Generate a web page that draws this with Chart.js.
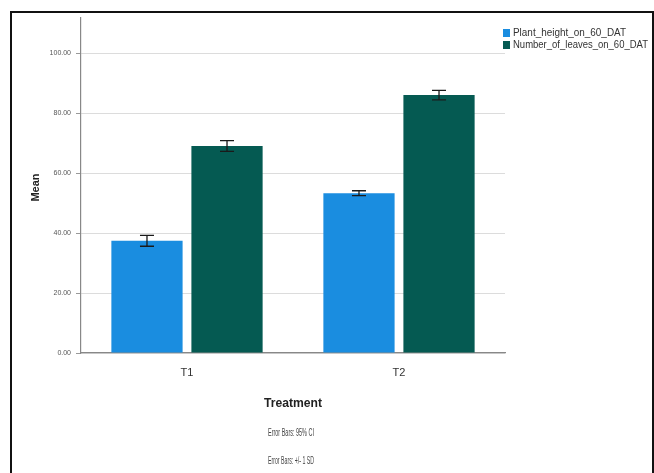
<!DOCTYPE html>
<html>
<head>
<meta charset="utf-8">
<script src="https://cdn.jsdelivr.net/npm/chart.js@4"></script>
<style>
  html, body { margin: 0; padding: 0; background: #fff; }
  #wrap { position: relative; width: 654px; height: 473px; overflow: hidden; }
  #frame { position: absolute; left: 10px; top: 11px; width: 640px; height: 480px;
           border: 2px solid #111; pointer-events: none; }
</style>
</head>
<body>
<div id="wrap">
  <canvas id="chart"></canvas>
  <div id="frame"></div>
</div>
<script>
const treatments = ['T1', 'T2'];
const plantHeight = [37.4, 53.3];
const plantHeightErr = [1.8, 0.8];
const leaves = [69.0, 86.0];
const leavesErr = [1.8, 1.6];
const yTicks = [0, 20, 40, 60, 80, 100];
const notes = ['Error Bars: 95% CI', 'Error Bars: +/- 1 SD'];

const FONT = "'Liberation Sans Narrow', 'Arial Narrow', 'Liberation Sans', sans-serif";
const BLUE = '#1a8de0';
const TEAL = '#055a52';

// barras de error + leyenda + textos inferiores
const extras = {
  id: 'extras',
  afterDatasetsDraw(chart) {
    const { ctx } = chart;
    const y = chart.scales.y;
    ctx.save();
    ctx.strokeStyle = '#1a1a1a';
    ctx.lineWidth = 1.3;
    chart.data.datasets.forEach((ds, i) => {
      chart.getDatasetMeta(i).data.forEach((bar, j) => {
        const hi = y.getPixelForValue(ds.data[j] + ds.err[j]);
        const lo = y.getPixelForValue(ds.data[j] - ds.err[j]);
        const cap = 7;
        ctx.beginPath();
        ctx.moveTo(bar.x, hi); ctx.lineTo(bar.x, lo);
        ctx.moveTo(bar.x - cap, hi); ctx.lineTo(bar.x + cap, hi);
        ctx.moveTo(bar.x - cap, lo); ctx.lineTo(bar.x + cap, lo);
        ctx.stroke();
      });
    });
    ctx.restore();
  },
  afterDraw(chart) {
    const { ctx, chartArea: a } = chart;
    const cx = (a.left + a.right) / 2;
    ctx.save();
    // leyenda (texto estrecho como en SPSS)
    ctx.textBaseline = 'middle';
    ctx.font = `10px ${FONT}`;
    chart.data.datasets.forEach((ds, i) => {
      const lx = a.right - 2, ly = 33 + i * 12;
      ctx.fillStyle = ds.backgroundColor;
      ctx.fillRect(lx, ly - 4, 7, 8);
      ctx.fillStyle = '#333';
      ctx.textAlign = 'left';
      ctx.fillText(ds.label, lx + 10, ly, i ? 135 : 113);
    });
    // título eje Y
    ctx.fillStyle = '#222';
    ctx.font = `bold 11px ${FONT}`;
    ctx.translate(36, (a.top + a.bottom) / 2 + 2);
    ctx.rotate(-Math.PI / 2);
    ctx.textAlign = 'center';
    ctx.fillText('Mean', 0, 0);
    ctx.setTransform(1, 0, 0, 1, 0, 0);
    // título eje X y notas
    ctx.font = `bold 12.5px ${FONT}`;
    ctx.fillText('Treatment', cx, a.bottom + 51, 58);
    ctx.fillStyle = '#444';
    ctx.font = `10px ${FONT}`;
    notes.forEach((t, i) => ctx.fillText(t, cx - 2, a.bottom + 80 + i * 28, 46));
    ctx.restore();
  },
};

new Chart(document.getElementById('chart'), {
  type: 'bar',
  data: {
    labels: treatments,
    datasets: [
      { label: 'Plant_height_on_60_DAT', data: plantHeight, err: plantHeightErr,
        backgroundColor: BLUE },
      { label: 'Number_of_leaves_on_60_DAT', data: leaves, err: leavesErr,
        backgroundColor: TEAL },
    ],
  },
  options: {
    responsive: true, maintainAspectRatio: false, animation: false,
    layout: { padding: { top: 18, right: 149, left: 0, bottom: 0 } },
    datasets: { bar: { categoryPercentage: 0.755, barPercentage: 0.89 } },
    plugins: { legend: { display: false }, tooltip: { enabled: false } },
    scales: {
      x: {
        grid: { display: false },
        border: { color: '#888', width: 1.2 },
        ticks: { color: '#333', font: { family: FONT, size: 11 }, padding: 5 },
        afterFit: (s) => { s.height = 120; },
      },
      y: {
        min: 0, max: 111.7,
        afterBuildTicks: (s) => { s.ticks = yTicks.map(v => ({ value: v })); },
        afterFit: (s) => { s.width = 81; },
        grid: { color: '#dcdcdc', tickColor: '#999', tickLength: 5 },
        border: { color: '#888', width: 1.2 },
        ticks: {
          color: '#555', font: { family: FONT, size: 7 }, padding: 5,
          callback: (v) => v.toFixed(2),
        },
      },
    },
  },
  plugins: [extras],
});
</script>
</body>
</html>
